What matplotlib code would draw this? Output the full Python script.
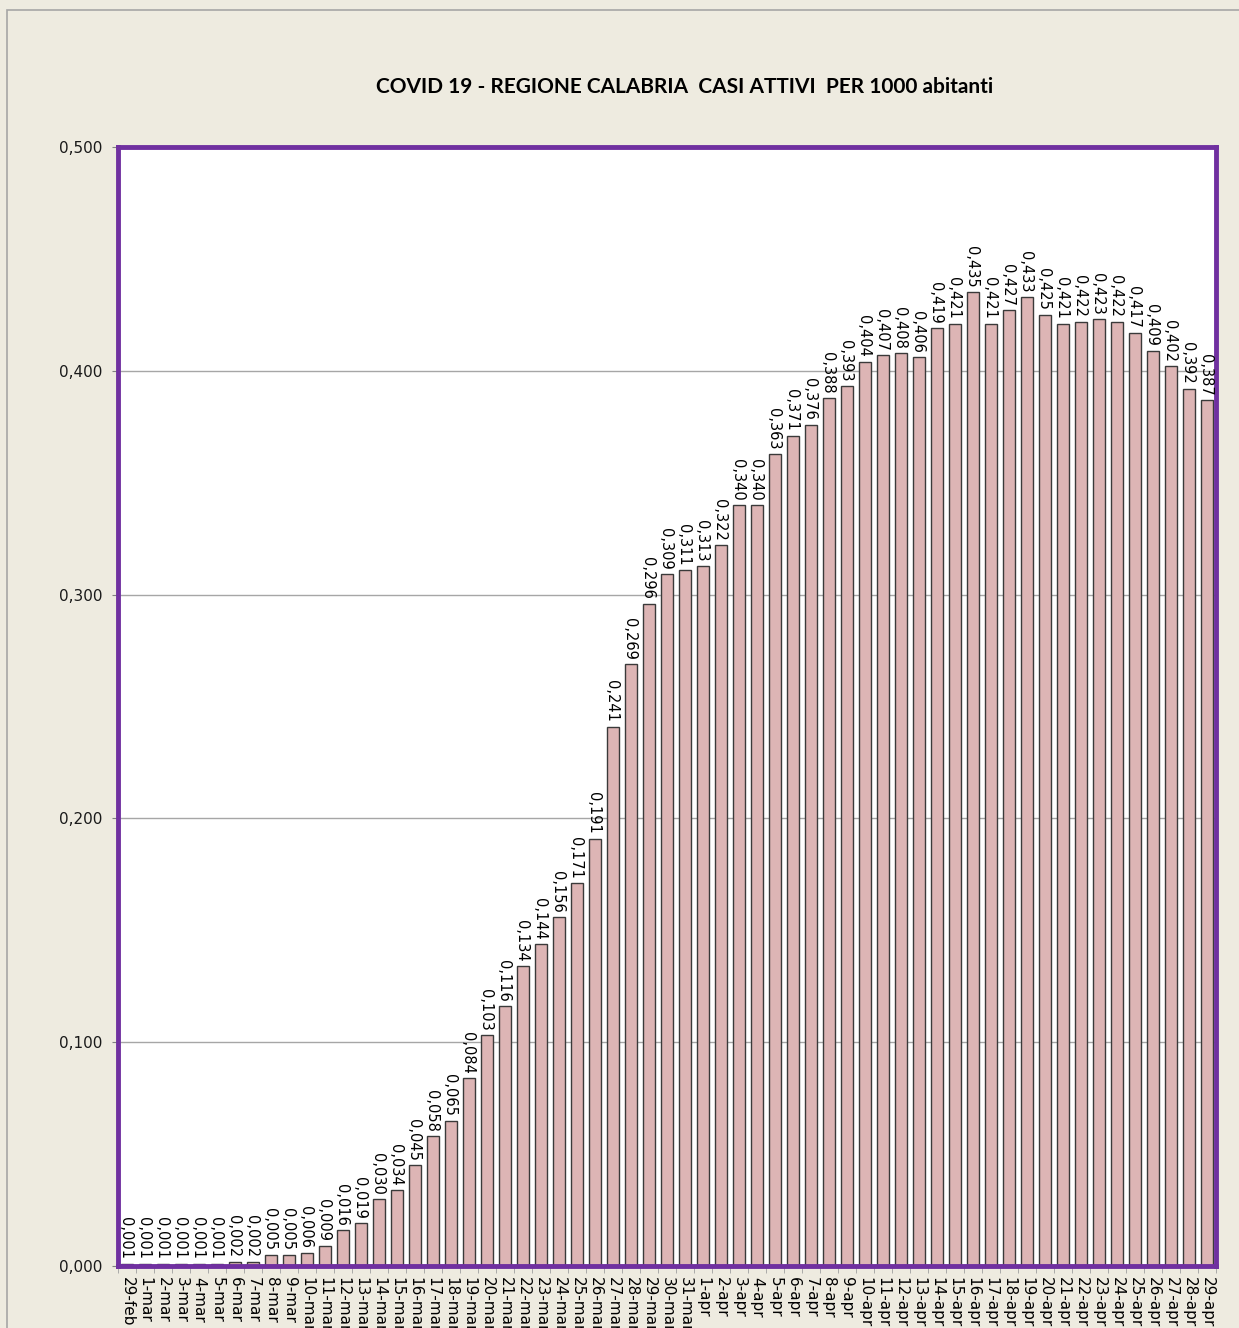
import matplotlib
matplotlib.use("Agg")
import matplotlib.pyplot as plt
from matplotlib.patches import Rectangle
import numpy as np

plt.rcParams["font.family"] = ["DejaVu Sans"]

dates = (["29-feb"] + [f"{d}-mar" for d in range(1, 32)]
         + [f"{d}-apr" for d in range(1, 30)])
values = [
    0.001, 0.001, 0.001, 0.001, 0.001, 0.001, 0.002, 0.002, 0.005, 0.005,
    0.006, 0.009, 0.016, 0.019, 0.030, 0.034, 0.045, 0.058, 0.065, 0.084,
    0.103, 0.116, 0.134, 0.144, 0.156, 0.171, 0.191, 0.241, 0.269, 0.296,
    0.309, 0.311, 0.313, 0.322, 0.340, 0.340, 0.363, 0.371, 0.376, 0.388,
    0.393, 0.404, 0.407, 0.408, 0.406, 0.419, 0.421, 0.435, 0.421, 0.427,
    0.433, 0.425, 0.421, 0.422, 0.423, 0.422, 0.417, 0.409, 0.402, 0.392,
    0.387,
]
y_ticks = [0.0, 0.1, 0.2, 0.3, 0.4, 0.5]
title = "COVID 19 - REGIONE CALABRIA  CASI ATTIVI  PER 1000 abitanti"

W, H = 1239, 1328
fig = plt.figure(figsize=(W / 100, H / 100), dpi=100)
fig.patch.set_facecolor("#EEEBE0")

# outer chart-area border
fig.patches.append(Rectangle((7 / W, -0.01), 1.05, 1 - 10 / H + 0.01,
                             transform=fig.transFigure, fill=False,
                             edgecolor="#A6A6A6", linewidth=1.2))

ax = fig.add_axes([118 / W, 1 - 1266 / H, (1216 - 118) / W, (1266 - 147) / H])
ax.set_facecolor("white")

x = np.arange(len(values))
ax.bar(x, values, width=0.62, color="#DDB5B5", edgecolor="#3A3A3A",
       linewidth=1.0, zorder=3)

for xi, v in zip(x, values):
    ax.text(xi - 0.1, v + 0.002, f"{v:.3f}".replace(".", ","), rotation=-90,
            ha="center", va="bottom", fontsize=10.5, color="black",
            zorder=6, clip_on=False)

ax.set_xlim(-0.5, len(values) - 0.5)
ax.set_ylim(0, 0.5)
ax.set_yticks(y_ticks)
ax.set_yticklabels([f"{t:.3f}".replace(".", ",") for t in y_ticks],
                   fontsize=11, color="#1A1A1A")
ax.yaxis.grid(True, color="#A6A6A6", linewidth=1.0, zorder=0)
ax.tick_params(axis="y", length=4, color="#808080", pad=7)

ax.set_xticks(x)
ax.set_xticklabels(dates, rotation=-90, fontsize=11, va="top", ha="center")
ax.set_xticks(np.arange(-0.5, len(values), 1), minor=True)
ax.tick_params(axis="x", which="major", length=0, pad=8)
ax.tick_params(axis="x", which="minor", length=5, color="#A0A0A0")

for s in ax.spines.values():
    s.set_color("#7030A0")
    s.set_linewidth(3.5)
    s.set_zorder(5)

fig.text(685 / W, 1 - 87 / H, title, ha="center", va="center",
         fontsize=15, fontweight="bold", family="Lato")

fig.savefig("out.png", dpi=100, facecolor=fig.get_facecolor())
